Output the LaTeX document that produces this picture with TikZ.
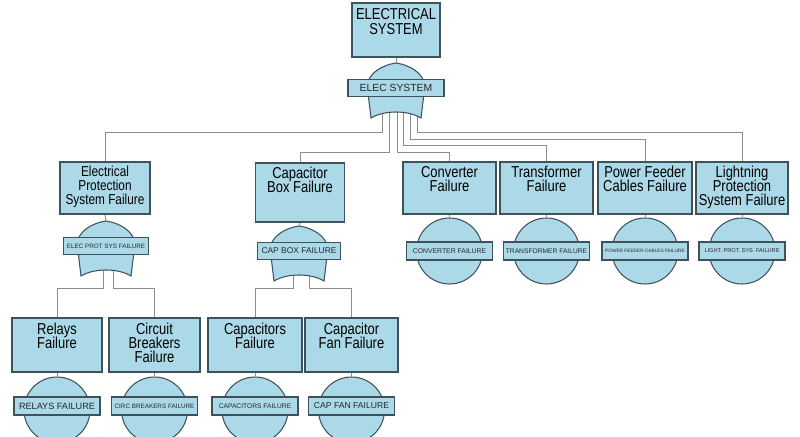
\documentclass[tikz,border=0pt]{standalone}
\usepackage{fontspec}
\setmainfont{Liberation Sans}
\newfontfamily\boxfont[FakeStretch=0.82]{Liberation Sans}
\usetikzlibrary{backgrounds}

\definecolor{faultblue}{HTML}{ABD9E7}
\definecolor{faultedge}{HTML}{3E525C}
\definecolor{wiregray}{HTML}{8C8C8C}

\newcommand{\fsz}[1]{\fontsize{#1}{#1}\selectfont}
\newcommand{\boxsz}[2]{\boxfont\fontsize{#1}{#2}\selectfont\lineskiplimit=-20pt\relax}

% or gate: name, x, apex y, label width, label
\newcommand{\orgate}[5]{%
  \coordinate (#1top) at (#2,#3);
  \filldraw[fill=faultblue, draw=faultedge, line width=0.6pt]
    (#2,#3) .. controls (#2+14,#3+2) and (#2+27,#3+10) .. (#2+29,#3+22)
    -- (#2+25,#3+55) .. controls (#2+12,#3+47) and (#2-12,#3+47) .. (#2-25,#3+55)
    -- (#2-29,#3+22) .. controls (#2-27,#3+10) and (#2-14,#3+2) .. cycle;
  \node[gatelabel, minimum width=#4] (#1) at (#2,#3+25) {#5};}

% basic event: name, x, circle y, label y, label
\newcommand{\basicev}[5]{%
  \node[evcircle] (#1c) at (#2,#3) {};
  \node[gatelabel, minimum width=1.72cm, minimum height=0.36cm] (#1) at (#2,#4) {#5};}

\begin{document}
\begin{tikzpicture}[x=0.02cm, y=-0.02cm,
  box/.style={draw=faultedge, fill=faultblue, line width=0.6pt, minimum width=1.86cm, minimum height=1.04cm, inner sep=0pt},
  boxtext/.style={anchor=north, align=center, inner sep=2.4pt, text=black, font=\boxsz{9}{8}},
  gatelabel/.style={draw=faultedge, fill=faultblue, line width=0.6pt, minimum height=0.33cm, inner sep=0pt, text=black!85},
  evcircle/.style={circle, draw=faultedge, fill=faultblue, line width=0.6pt, minimum size=1.32cm, inner sep=0pt},
  wire/.style={draw=wiregray, line width=0.5pt}]
\useasboundingbox (0,0) rectangle (800,436);
\clip (0,0) rectangle (800,436);

\def\rowb{188}
\def\rowc{345}

\node[box, minimum width=1.76cm, minimum height=1.08cm] (top) at (396,30) {};
\node[boxtext, inner sep=3.4pt, font=\boxsz{9}{8.5}] (topt) at (top.north) {ELECTRICAL\\SYSTEM};
\orgate{gsys}{396}{63}{1.92cm}{\fsz{5.9}ELEC SYSTEM}

\node[box, minimum width=1.8cm] (eps) at (105,\rowb) {};
\node[boxtext, font=\boxsz{8.2}{7.9}] (epst) at (eps.north) {Electrical\\Protection\\System Failure};
\node[box, minimum width=1.78cm, minimum height=1.18cm] (capbox) at (300,192.5) {};
\node[boxtext] (capboxt) at (capbox.north) {Capacitor\\Box Failure};
\node[box] (conv) at (449.5,\rowb) {};
\node[boxtext] (convt) at (conv.north) {Converter\\Failure};
\node[box] (trans) at (546.5,\rowb) {};
\node[boxtext] (transt) at (trans.north) {Transformer\\Failure};
\node[box, minimum width=1.88cm] (feeder) at (645,\rowb) {};
\node[boxtext] (feedert) at (feeder.north) {Power Feeder\\Cables Failure};
\node[box, minimum width=1.84cm] (light) at (742,\rowb) {};
\node[boxtext] (lightt) at (light.north) {Lightning\\Protection\\System Failure};

\orgate{geps}{106}{221}{1.7cm}{\fsz{3.6}ELEC PROT SYS FAILURE}
\orgate{gcap}{299}{226}{1.66cm}{\fsz{4.8}CAP BOX FAILURE}

\basicev{convev}{449.5}{251}{251}{\fsz{3.9}CONVERTER FAILURE}
\basicev{transev}{546.5}{251}{251}{\fsz{3.8}TRANSFORMER FAILURE}
\basicev{feederev}{645}{251}{251}{\fsz{2.7}POWER FEEDER CABLES FAILURE}
\basicev{lightev}{742}{251}{251}{\fsz{3.2}LIGHT. PROT. SYS. FAILURE}

\node[box, minimum width=1.8cm, minimum height=1.08cm] (relays) at (57,\rowc) {};
\node[boxtext, inner sep=3pt] (relayst) at (relays.north) {Relays\\Failure};
\node[box, minimum width=1.82cm, minimum height=1.08cm] (breakers) at (154.5,\rowc) {};
\node[boxtext, inner sep=3pt] (breakerst) at (breakers.north) {Circuit\\Breakers\\Failure};
\node[box, minimum width=1.88cm, minimum height=1.08cm] (caps) at (255,\rowc) {};
\node[boxtext, inner sep=3pt] (capst) at (caps.north) {Capacitors\\Failure};
\node[box, minimum width=1.86cm, minimum height=1.08cm] (fan) at (351.5,\rowc) {};
\node[boxtext, inner sep=3pt] (fant) at (fan.north) {Capacitor\\Fan Failure};

\basicev{relaysev}{57}{410}{406}{\fsz{5.2}RELAYS FAILURE}
\basicev{breakersev}{154.5}{410}{406}{\fsz{3.6}CIRC BREAKERS FAILURE}
\basicev{capsev}{255}{410}{406}{\fsz{3.8}CAPACITORS FAILURE}
\basicev{fanev}{351.5}{410}{406}{\fsz{4.9}CAP FAN FAILURE}

\begin{scope}[on background layer]
\draw[wire] (top.south) -- (gsystop);
\draw[wire] ([xshift=-0.28cm]gsys.south) -- ++(0,36) -| (eps.north);
\draw[wire] ([xshift=-0.14cm]gsys.south) -- ++(0,56) -| (capbox.north);
\draw[wire] ([xshift=0.02cm]gsys.south) -- ++(0,56) -| (conv.north);
\draw[wire] ([xshift=0.14cm]gsys.south) -- ++(0,49) -| (trans.north);
\draw[wire] ([xshift=0.28cm]gsys.south) -- ++(0,43) -| (feeder.north);
\draw[wire] ([xshift=0.42cm]gsys.south) -- ++(0,36) -| (light.north);

\draw[wire] (eps.south) -- (gepstop);
\draw[wire] (capbox.south) -- (gcaptop);
\draw[wire] (conv.south) -- (convevc.north);
\draw[wire] (trans.south) -- (transevc.north);
\draw[wire] (feeder.south) -- (feederevc.north);
\draw[wire] (light.south) -- (lightevc.north);

\draw[wire] ([xshift=-0.06cm]geps.south) -- ++(0,34) -| (relays.north);
\draw[wire] ([xshift=0.14cm]geps.south) -- ++(0,34) -| (breakers.north);
\draw[wire] ([xshift=-0.12cm]gcap.south) -- ++(0,29) -| (caps.north);
\draw[wire] ([xshift=0.2cm]gcap.south) -- ++(0,29) -| (fan.north);

\draw[wire] (relays.south) -- (relaysevc.north);
\draw[wire] (breakers.south) -- (breakersevc.north);
\draw[wire] (caps.south) -- (capsevc.north);
\draw[wire] (fan.south) -- (fanevc.north);
\end{scope}
\end{tikzpicture}
\end{document}
